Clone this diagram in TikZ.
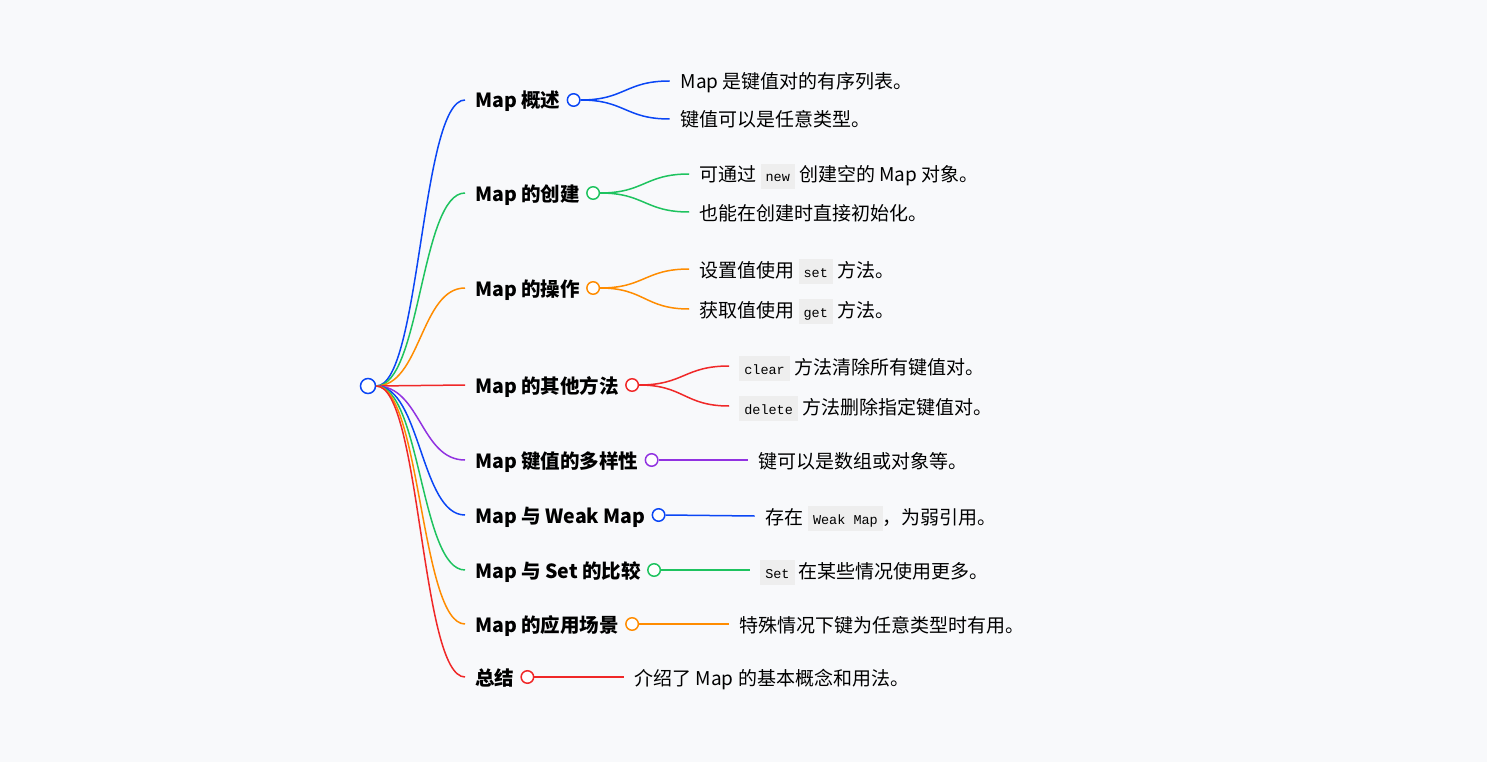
\documentclass[tikz,border=0pt]{standalone}
\usepackage{fontspec}
\setmainfont{Noto Sans CJK SC}
\newfontfamily\codefont{Liberation Mono}
\usetikzlibrary{positioning,calc}

\definecolor{bgcol}{RGB}{248,249,251}
\definecolor{cblue}{RGB}{10,70,245}
\definecolor{cgreen}{RGB}{30,195,95}
\definecolor{corange}{RGB}{255,140,0}
\definecolor{cred}{RGB}{240,40,40}
\definecolor{cpurple}{RGB}{145,50,225}
\definecolor{codebg}{RGB}{238,238,238}

% inline code box
\newcommand\code[1]{{\setlength\fboxsep{0pt}\colorbox{codebg}{\hspace{5pt}\codefont\fontsize{13.5}{15}\selectfont\rule[-7pt]{0pt}{25pt}#1\hspace{5pt}}}}
% curved branch
\newcommand\mlink[3]{\draw[lnk,#3] let \p1=(#1), \p2=(#2) in (\p1) .. controls ({(\x1+\x2)/2},\y1) and ({(\x1+\x2)/2},\y2) .. (\p2);}

\tikzset{
  lbl/.style={anchor=west, inner sep=0pt, text height=17pt, text depth=1pt,
              font=\bfseries\fontsize{19.5}{23}\selectfont},
  sub/.style={inner sep=0pt, text height=17pt, text depth=1pt,
              font=\fontsize{19}{23}\selectfont},
  knob/.style={circle, draw=#1, fill=white, line width=1.5pt, minimum size=12.5pt, inner sep=0pt},
  lnk/.style={line width=1.5pt},
}

\begin{document}
\begin{tikzpicture}[x=1pt,y=-1pt]
% canvas
\fill[bgcol] (0,0) rectangle (1487,762);
\useasboundingbox (0,0) rectangle (1487,762);

% root
\node[knob=cblue, minimum size=15pt] (root) at (368,386) {};

% first level
\node[lbl] (m1) at (475,100) {Map 概述};
\node[lbl] (m2) at (475,193) {Map 的创建};
\node[lbl] (m3) at (475,288) {Map 的操作};
\node[lbl] (m4) at (475,385) {Map 的其他方法};
\node[lbl] (m5) at (475,460) {Map 键值的多样性};
\node[lbl] (m6) at (475,515) {Map 与 Weak Map};
\node[lbl] (m7) at (475,570) {Map 与 Set 的比较};
\node[lbl] (m8) at (475,624) {Map 的应用场景};
\node[lbl] (m9) at (475,677) {总结};

\foreach \i/\col in {1/cblue,2/cgreen,3/corange,4/cred,5/cpurple,6/cblue,7/cgreen,8/corange,9/cred}{
  \coordinate (a\i) at ([xshift=-10pt]m\i.west);
  \mlink{root.east}{a\i}{\col}
  \node[knob=\col, right=6pt of m\i] (c\i) {};
}

% Map 概述
\coordinate (e11) at ($(c1)+(96,-19)$);
\coordinate (e12) at ($(c1)+(96,19)$);
\node[sub, right=11pt of e11] (t11) {Map 是键值对的有序列表。};
\node[sub, right=11pt of e12] (t12) {键值可以是任意类型。};
\mlink{c1.east}{e11}{cblue}
\mlink{c1.east}{e12}{cblue}

% Map 的创建
\coordinate (e21) at ($(c2)+(96,-19)$);
\coordinate (e22) at ($(c2)+(96,19)$);
\node[sub, right=10pt of e21] (t21) {可通过 \code{new} 创建空的 Map 对象。};
\node[sub, right=10pt of e22] (t22) {也能在创建时直接初始化。};
\mlink{c2.east}{e21}{cgreen}
\mlink{c2.east}{e22}{cgreen}

% Map 的操作
\coordinate (e31) at ($(c3)+(96,-19)$);
\coordinate (e32) at ($(c3)+(96,21)$);
\node[sub, right=10pt of e31] (t31) {设置值使用 \code{set} 方法。};
\node[sub, right=10pt of e32] (t32) {获取值使用 \code{get} 方法。};
\mlink{c3.east}{e31}{corange}
\mlink{c3.east}{e32}{corange}

% Map 的其他方法
\coordinate (e41) at ($(c4)+(97,-19)$);
\coordinate (e42) at ($(c4)+(97,21)$);
\node[sub, right=10pt of e41] (t41) {\code{clear} 方法清除所有键值对。};
\node[sub, right=10pt of e42] (t42) {\code{delete} 方法删除指定键值对。};
\mlink{c4.east}{e41}{cred}
\mlink{c4.east}{e42}{cred}

% single leaves
\coordinate (e51) at ($(c5)+(96,0)$);
\node[sub, right=11pt of e51] (t51) {键可以是数组或对象等。};
\draw[lnk,cpurple] (c5.east) -- (e51);

\coordinate (e61) at ($(c6)+(96,1)$);
\node[sub, right=11pt of e61] (t61) {存在 \code{Weak Map}，为弱引用。};
\draw[lnk,cblue] (c6.east) -- (e61);

\coordinate (e71) at ($(c7)+(96,0)$);
\node[sub, right=10pt of e71] (t71) {\code{Set} 在某些情况使用更多。};
\draw[lnk,cgreen] (c7.east) -- (e71);

\coordinate (e81) at ($(c8)+(97,0)$);
\node[sub, right=10pt of e81] (t81) {特殊情况下键为任意类型时有用。};
\draw[lnk,corange] (c8.east) -- (e81);

\coordinate (e91) at ($(c9)+(97,0)$);
\node[sub, right=10pt of e91] (t91) {介绍了 Map 的基本概念和用法。};
\draw[lnk,cred] (c9.east) -- (e91);
\end{tikzpicture}
\end{document}
